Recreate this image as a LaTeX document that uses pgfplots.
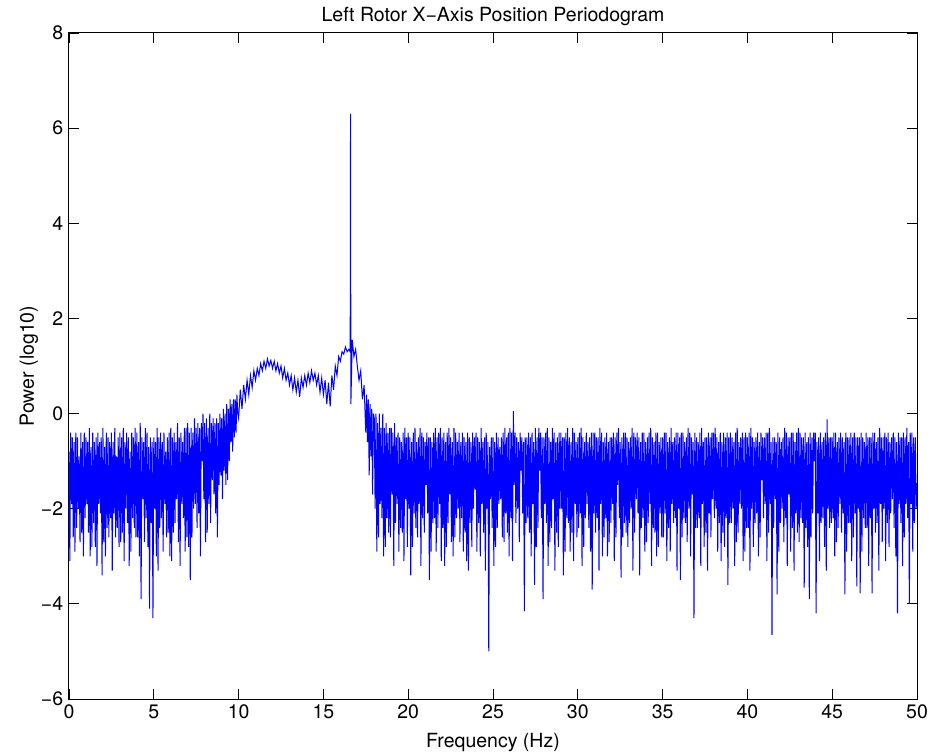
\documentclass[border=0pt]{standalone}
\usepackage{pgfplots}
\pgfplotsset{compat=1.18}
\usepackage{fontspec}
\setmainfont{TeX Gyre Heros}
\begin{document}
\begin{tikzpicture}
\path[use as bounding box] (-41.4pt,-33.6pt) rectangle (517.2pt,419.4pt);
\begin{axis}[
  at={(0,0)}, anchor=south west,
  scale only axis, width=508.8pt, height=399.6pt,
  xmin=0, xmax=50, ymin=-6, ymax=8,
  xtick={0,5,...,50},
  ytick={-6,-4,-2,0,2,4,6,8},
  yticklabels={−6,−4,−2,0,2,4,6,8},
  /pgf/number format/assume math mode=true,
  tick align=inside, major tick length=6pt,
  tick style={black, line width=0.5pt},
  axis line style={black, line width=0.6pt},
  ticklabel style={font=\fontsize{11.7pt}{13pt}\selectfont},
  title={Left Rotor X−Axis Position Periodogram},
  title style={font=\fontsize{11.7pt}{13pt}\selectfont, at={(axis description cs:0.5,1.0015)}, anchor=base},
  xlabel={Frequency (Hz)},
  xlabel style={font=\fontsize{11.7pt}{13pt}\selectfont, at={(axis description cs:0.5,-0.0721)}, anchor=base},
  ylabel={Power (log10)},
  ylabel style={font=\fontsize{11.7pt}{13pt}\selectfont, at={(axis description cs:-0.0472,0.5)}, anchor=center},
]
\addplot[color={rgb,255:red,0;green,0;blue,255}, line width=0.6pt, mark=none] coordinates {
(0.00,-0.8)(0.05,-3.1)(0.10,-0.4)(0.15,-1.9)(0.20,-0.5)(0.25,-2.6)(0.30,-0.6)(0.35,-2.9)(0.40,-0.4)(0.45,-2.4)
(0.50,-0.5)(0.55,-2.0)(0.60,-0.9)(0.65,-2.7)(0.70,-0.4)(0.75,-2.5)(0.80,-0.6)(0.85,-3.0)(0.90,-0.4)(0.95,-2.2)
(1.00,-0.5)(1.05,-1.9)(1.10,-0.6)(1.15,-2.5)(1.20,-0.3)(1.25,-3.0)(1.30,-0.7)(1.35,-2.8)(1.40,-0.4)(1.45,-2.3)
(1.50,-0.6)(1.55,-2.8)(1.60,-0.5)(1.65,-3.2)(1.70,-0.4)(1.75,-1.9)(1.80,-0.6)(1.85,-2.1)(1.90,-0.5)(1.95,-3.4)
(2.00,-0.3)(2.05,-2.7)(2.10,-0.7)(2.15,-3.0)(2.20,-0.4)(2.25,-2.4)(2.30,-0.5)(2.35,-2.6)(2.40,-0.6)(2.45,-2.2)
(2.50,-0.4)(2.55,-3.3)(2.60,-0.6)(2.65,-2.1)(2.70,-0.3)(2.75,-2.6)(2.80,-0.9)(2.85,-2.4)(2.90,-0.5)(2.95,-2.8)
(3.00,-0.4)(3.05,-2.7)(3.10,-0.5)(3.15,-2.5)(3.20,-0.3)(3.25,-3.1)(3.30,-0.6)(3.35,-2.0)(3.40,-0.4)(3.45,-2.3)
(3.50,-0.5)(3.55,-3.2)(3.60,-0.8)(3.65,-2.9)(3.70,-0.4)(3.75,-2.2)(3.80,-0.5)(3.85,-2.4)(3.90,-0.3)(3.95,-2.6)
(4.00,-0.4)(4.05,-2.6)(4.10,-0.6)(4.15,-3.0)(4.20,-0.2)(4.25,-3.9)(4.30,-0.5)(4.35,-1.8)(4.40,-0.6)(4.45,-2.7)
(4.50,-0.3)(4.55,-2.2)(4.60,-0.4)(4.65,-2.8)(4.70,-0.7)(4.75,-4.1)(4.80,-0.5)(4.85,-2.3)(4.90,-0.6)(4.95,-4.3)
(5.00,-0.5)(5.05,-2.0)(5.10,-0.6)(5.15,-3.0)(5.20,-0.3)(5.25,-3.3)(5.30,-0.5)(5.35,-2.4)(5.40,-0.4)(5.45,-2.2)
(5.50,-0.6)(5.55,-2.9)(5.60,-0.4)(5.65,-1.9)(5.70,-0.8)(5.75,-2.6)(5.80,-0.5)(5.85,-2.5)(5.90,-0.4)(5.95,-3.0)
(6.00,-0.3)(6.05,-3.1)(6.10,-0.5)(6.15,-2.5)(6.20,-0.4)(6.25,-2.3)(6.30,-0.6)(6.35,-1.8)(6.40,-0.2)(6.45,-2.7)
(6.50,-0.5)(6.55,-3.2)(6.60,-0.4)(6.65,-1.9)(6.70,-0.6)(6.75,-2.2)(6.80,-0.3)(6.85,-2.9)(6.90,-0.3)(6.95,-2.6)
(7.00,-0.2)(7.05,-2.8)(7.10,-0.4)(7.15,-3.5)(7.20,-0.3)(7.25,-2.6)(7.30,-0.4)(7.35,-2.0)(7.40,-0.1)(7.45,-1.9)
(7.50,-0.3)(7.55,-2.4)(7.60,-0.2)(7.65,-2.1)(7.70,-0.3)(7.75,-3.0)(7.80,-0.2)(7.85,-1.0)(7.90,0.0)(7.95,-1.8)
(8.00,-0.2)(8.05,-2.7)(8.10,-0.1)(8.15,-2.5)(8.20,-0.3)(8.25,-1.9)(8.30,0.0)(8.35,-2.3)(8.40,-0.2)(8.45,-1.4)
(8.50,-0.1)(8.55,-1.7)(8.60,-0.2)(8.65,-2.1)(8.70,-0.1)(8.75,-2.6)(8.80,-0.2)(8.85,-1.5)(8.90,0.0)(8.95,-1.3)
(9.00,-0.1)(9.05,-1.8)(9.10,0.1)(9.15,-1.2)(9.20,0.0)(9.25,-1.5)(9.30,0.2)(9.35,-1.4)(9.40,0.1)(9.45,-1.0)
(9.50,0.3)(9.55,-0.6)(9.60,0.2)(9.65,-0.8)(9.70,0.3)(9.75,-0.5)(9.80,0.3)(9.85,-0.4)(9.90,0.4)(9.95,0.0)
(10.0,-0.1)(10.1,0.5)(10.2,0.1)(10.3,0.6)(10.4,0.3)(10.5,0.7)(10.6,0.4)(10.7,0.8)(10.8,0.55)(10.9,0.9)
(11.0,0.7)(11.1,0.95)(11.2,0.8)(11.3,1.05)(11.4,0.9)(11.5,1.1)(11.6,0.95)(11.7,1.15)(11.8,1.0)(11.9,1.12)
(12.0,0.95)(12.1,1.1)(12.2,0.9)(12.3,1.05)(12.4,0.85)(12.5,1.0)(12.6,0.75)(12.7,0.95)(12.8,0.7)(12.9,0.85)
(13.0,0.6)(13.1,0.8)(13.2,0.5)(13.3,0.75)(13.4,0.45)(13.5,0.7)(13.6,0.35)(13.7,0.75)(13.8,0.55)(13.9,0.8)
(14.0,0.6)(14.1,0.85)(14.2,0.65)(14.3,0.9)(14.4,0.7)(14.5,0.85)(14.6,0.6)(14.7,0.8)(14.8,0.45)(14.9,0.75)
(15.0,0.4)(15.1,0.7)(15.2,0.2)(15.3,0.65)(15.4,0.15)(15.5,0.8)(15.6,0.5)(15.7,1.0)(15.8,0.8)(15.9,1.2)
(16.0,1.1)(16.1,1.3)(16.2,1.25)(16.3,1.4)(16.4,1.3)(16.5,1.35)(16.58,1.3)(16.6,6.3)(16.62,0.2)(16.7,1.55)(16.8,1.2)(16.9,1.35)
(17.0,1.0)(17.1,0.7)(17.2,0.9)(17.3,0.3)(17.4,0.6)
(17.50,-0.4)(17.55,0.4)(17.60,-0.6)(17.65,0.3)(17.70,-1.3)(17.75,0.2)(17.80,-0.9)(17.85,0.1)(17.90,-1.7)(17.95,0.0)
(18.00,-0.1)(18.05,-2.0)(18.10,0.0)(18.15,-2.9)(18.20,-0.2)(18.25,-2.6)(18.30,0.0)(18.35,-1.9)(18.40,-0.3)(18.45,-2.2)
(18.50,0.0)(18.55,-3.0)(18.60,-0.3)(18.65,-2.8)(18.70,-0.2)(18.75,-2.2)(18.80,-0.4)(18.85,-2.5)(18.90,-0.3)(18.95,-2.6)
(19.00,-0.3)(19.05,-1.7)(19.10,-0.4)(19.15,-3.2)(19.20,-0.2)(19.25,-2.3)(19.30,-0.5)(19.35,-1.9)(19.40,-0.4)(19.45,-2.9)
(19.50,-0.5)(19.55,-2.4)(19.60,-0.6)(19.65,-2.5)(19.70,-0.4)(19.75,-3.1)(19.80,-0.3)(19.85,-1.8)(19.90,-0.5)(19.95,-2.8)
(20.00,-0.4)(20.05,-2.0)(20.10,-0.5)(20.15,-3.4)(20.20,-0.6)(20.25,-2.8)(20.30,-0.4)(20.35,-2.1)(20.40,-0.3)(20.45,-2.4)
(20.50,-0.6)(20.55,-2.6)(20.60,-0.5)(20.65,-1.9)(20.70,-0.3)(20.75,-3.2)(20.80,-0.4)(20.85,-2.2)(20.90,-0.5)(20.95,-2.5)
(21.00,-0.6)(21.05,-1.5)(21.10,-0.4)(21.15,-2.1)(21.20,-0.5)(21.25,-3.5)(21.30,-0.5)(21.35,-2.9)(21.40,-0.6)(21.45,-2.3)
(21.50,-0.4)(21.55,-2.2)(21.60,-0.3)(21.65,-2.9)(21.70,-0.5)(21.75,-2.4)(21.80,-0.4)(21.85,-1.9)(21.90,-0.3)(21.95,-3.1)
(22.00,-0.5)(22.05,-2.4)(22.10,-0.4)(22.15,-3.2)(22.20,-0.6)(22.25,-2.8)(22.30,-0.4)(22.35,-2.3)(22.40,-0.3)(22.45,-1.7)
(22.50,-0.5)(22.55,-2.7)(22.60,-0.6)(22.65,-3.0)(22.70,-0.3)(22.75,-2.6)(22.80,-0.4)(22.85,-2.2)(22.90,-0.6)(22.95,-2.0)
(23.00,-0.4)(23.05,-2.7)(23.10,-0.6)(23.15,-2.2)(23.20,-0.4)(23.25,-2.9)(23.30,-0.5)(23.35,-2.5)(23.40,-0.6)(23.45,-3.1)
(23.50,-0.4)(23.55,-3.3)(23.60,-0.5)(23.65,-2.3)(23.70,-0.6)(23.75,-2.8)(23.80,-0.4)(23.85,-2.0)(23.90,-0.5)(23.95,-1.6)
(24.00,-0.4)(24.05,-2.9)(24.10,-0.5)(24.15,-2.3)(24.20,-0.6)(24.25,-3.0)(24.30,-0.3)(24.35,-1.9)(24.40,-0.6)(24.45,-2.5)
(24.50,-0.5)(24.55,-3.3)(24.60,-0.4)(24.65,-2.0)(24.70,-0.6)(24.75,-5.0)(24.80,-0.7)(24.85,-1.8)(24.90,-0.5)(24.95,-2.4)
(25.00,-0.5)(25.05,-3.2)(25.10,-0.6)(25.15,-2.8)(25.20,-0.4)(25.25,-2.4)(25.30,-0.5)(25.35,-1.9)(25.40,-0.7)(25.45,-1.8)
(25.50,-0.5)(25.55,-2.6)(25.60,-0.4)(25.65,-2.7)(25.70,-0.3)(25.75,-2.1)(25.80,-0.5)(25.85,-2.5)(25.90,-0.4)(25.95,-3.0)
(26.00,-0.3)(26.05,-2.2)(26.10,-0.4)(26.15,-3.1)(26.20,0.05)(26.25,-1.5)(26.30,-0.4)(26.35,-2.3)(26.40,-0.5)(26.45,-2.0)
(26.50,-0.6)(26.55,-2.7)(26.60,-0.4)(26.65,-1.2)(26.70,-0.5)(26.75,-2.1)(26.80,-0.6)(26.85,-4.15)(26.90,-0.5)(26.95,-2.3)
(27.00,-0.5)(27.05,-2.2)(27.10,-0.4)(27.15,-2.5)(27.20,-0.5)(27.25,-3.0)(27.30,-0.4)(27.35,-1.9)(27.40,-0.6)(27.45,-3.6)
(27.50,-0.3)(27.55,-2.8)(27.60,-0.5)(27.65,-2.4)(27.70,-0.3)(27.75,-1.2)(27.80,-0.4)(27.85,-2.2)(27.90,-0.5)(27.95,-3.9)
(28.00,-0.5)(28.05,-1.9)(28.10,-0.4)(28.15,-2.3)(28.20,-0.3)(28.25,-3.2)(28.30,-0.5)(28.35,-2.7)(28.40,-0.6)(28.45,-2.4)
(28.50,-0.3)(28.55,-1.8)(28.60,-0.4)(28.65,-3.3)(28.70,-0.6)(28.75,-2.5)(28.80,-0.5)(28.85,-2.8)(28.90,-0.4)(28.95,-2.0)
(29.00,-0.4)(29.05,-2.0)(29.10,-0.5)(29.15,-3.4)(29.20,-0.5)(29.25,-2.9)(29.30,-0.4)(29.35,-2.2)(29.40,-0.3)(29.45,-2.3)
(29.50,-0.5)(29.55,-2.9)(29.60,-0.6)(29.65,-2.5)(29.70,-0.3)(29.75,-3.1)(29.80,-0.4)(29.85,-1.9)(29.90,-0.6)(29.95,-2.6)
(30.00,-0.5)(30.05,-2.4)(30.10,-0.4)(30.15,-2.1)(30.20,-0.3)(30.25,-3.2)(30.30,-0.5)(30.35,-2.8)(30.40,-0.6)(30.45,-2.2)
(30.50,-0.4)(30.55,-1.9)(30.60,-0.6)(30.65,-2.4)(30.70,-0.5)(30.75,-2.9)(30.80,-0.4)(30.85,-3.7)(30.90,-0.4)(30.95,-2.1)
(31.00,-0.4)(31.05,-2.5)(31.10,-0.5)(31.15,-2.2)(31.20,-0.5)(31.25,-3.3)(31.30,-0.3)(31.35,-1.9)(31.40,-0.4)(31.45,-3.0)
(31.50,-0.6)(31.55,-2.6)(31.60,-0.5)(31.65,-2.2)(31.70,-0.4)(31.75,-3.0)(31.80,-0.6)(31.85,-2.7)(31.90,-0.5)(31.95,-2.3)
(32.00,-0.5)(32.05,-1.9)(32.10,-0.4)(32.15,-3.1)(32.20,-0.5)(32.25,-2.6)(32.30,-0.4)(32.35,-1.5)(32.40,-0.3)(32.45,-2.2)
(32.50,-0.6)(32.55,-3.45)(32.60,-0.5)(32.65,-2.6)(32.70,-0.4)(32.75,-2.3)(32.80,-0.4)(32.85,-2.5)(32.90,-0.5)(32.95,-2.8)
(33.00,-0.6)(33.05,-2.3)(33.10,-0.5)(33.15,-2.0)(33.20,-0.3)(33.25,-3.3)(33.30,-0.4)(33.35,-2.5)(33.40,-0.5)(33.45,-1.8)
(33.50,-0.4)(33.55,-2.1)(33.60,-0.5)(33.65,-3.4)(33.70,-0.6)(33.75,-2.4)(33.80,-0.4)(33.85,-2.2)(33.90,-0.4)(33.95,-2.9)
(34.00,-0.6)(34.05,-2.7)(34.10,-0.5)(34.15,-2.3)(34.20,-0.4)(34.25,-1.9)(34.30,-0.3)(34.35,-3.2)(34.40,-0.5)(34.45,-2.4)
(34.50,-0.6)(34.55,-2.5)(34.60,-0.4)(34.65,-3.0)(34.70,-0.4)(34.75,-2.8)(34.80,-0.6)(34.85,-2.1)(34.90,-0.5)(34.95,-2.6)
(35.00,-0.5)(35.05,-2.6)(35.10,-0.4)(35.15,-2.1)(35.20,-0.4)(35.25,-3.1)(35.30,-0.6)(35.35,-2.4)(35.40,-0.5)(35.45,-2.9)
(35.50,-0.3)(35.55,-1.9)(35.60,-0.6)(35.65,-2.3)(35.70,-0.5)(35.75,-2.2)(35.80,-0.4)(35.85,-3.3)(35.90,-0.4)(35.95,-2.0)
(36.00,-0.5)(36.05,-3.5)(36.10,-0.4)(36.15,-2.6)(36.20,-0.4)(36.25,-2.2)(36.30,-0.6)(36.35,-2.3)(36.40,-0.5)(36.45,-2.7)
(36.50,-0.3)(36.55,-2.0)(36.60,-0.4)(36.65,-3.0)(36.70,-0.5)(36.75,-1.7)(36.80,-0.6)(36.85,-4.3)(36.90,-0.4)(36.95,-2.4)
(37.00,-0.5)(37.05,-2.4)(37.10,-0.6)(37.15,-2.2)(37.20,-0.4)(37.25,-3.2)(37.30,-0.3)(37.35,-1.9)(37.40,-0.6)(37.45,-2.8)
(37.50,-0.5)(37.55,-2.5)(37.60,-0.5)(37.65,-3.3)(37.70,-0.4)(37.75,-2.1)(37.80,-0.5)(37.85,-2.6)(37.90,-0.4)(37.95,-1.8)
(38.00,-0.4)(38.05,-2.2)(38.10,-0.3)(38.15,-2.0)(38.20,-0.5)(38.25,-2.9)(38.30,-0.6)(38.35,-2.3)(38.40,-0.4)(38.45,-3.1)
(38.50,-0.6)(38.55,-2.5)(38.60,-0.4)(38.65,-2.8)(38.70,-0.5)(38.75,-2.2)(38.80,-0.4)(38.85,-3.6)(38.90,-0.5)(38.95,-2.3)
(39.00,-0.4)(39.05,-2.3)(39.10,-0.5)(39.15,-2.0)(39.20,-0.6)(39.25,-3.2)(39.30,-0.4)(39.35,-2.7)(39.40,-0.3)(39.45,-2.5)
(39.50,-0.6)(39.55,-1.9)(39.60,-0.5)(39.65,-2.0)(39.70,-0.4)(39.75,-3.1)(39.80,-0.5)(39.85,-2.9)(39.90,-0.4)(39.95,-2.4)
(40.00,-0.5)(40.05,-2.4)(40.10,-0.4)(40.15,-3.3)(40.20,-0.3)(40.25,-2.0)(40.30,-0.5)(40.35,-2.8)(40.40,-0.6)(40.45,-2.3)
(40.50,-0.5)(40.55,-2.1)(40.60,-0.4)(40.65,-3.0)(40.70,-0.6)(40.75,-2.6)(40.80,-0.4)(40.85,-1.4)(40.90,-0.5)(40.95,-2.2)
(41.00,-0.5)(41.05,-1.9)(41.10,-0.4)(41.15,-3.1)(41.20,-0.4)(41.25,-2.5)(41.30,-0.3)(41.35,-1.9)(41.40,-0.6)(41.45,-4.65)
(41.50,-0.5)(41.55,-2.4)(41.60,-0.5)(41.65,-1.8)(41.70,-0.6)(41.75,-3.8)(41.80,-0.4)(41.85,-2.9)(41.90,-0.5)(41.95,-2.3)
(42.00,-0.6)(42.05,-2.0)(42.10,-0.5)(42.15,-2.7)(42.20,-0.3)(42.25,-2.2)(42.30,-0.4)(42.35,-3.2)(42.40,-0.5)(42.45,-1.7)
(42.50,-0.5)(42.55,-2.9)(42.60,-0.4)(42.65,-2.4)(42.70,-0.4)(42.75,-3.3)(42.80,-0.6)(42.85,-2.1)(42.90,-0.4)(42.95,-2.5)
(43.00,-0.3)(43.05,-2.7)(43.10,-0.4)(43.15,-2.2)(43.20,-0.5)(43.25,-2.3)(43.30,-0.5)(43.35,-3.66)(43.40,-0.4)(43.45,-2.4)
(43.50,-0.6)(43.55,-2.8)(43.60,-0.5)(43.65,-3.9)(43.70,-0.4)(43.75,-2.6)(43.80,-0.5)(43.85,-2.1)(43.90,-0.4)(43.95,-1.0)
(44.00,-0.4)(44.05,-4.2)(44.10,-0.6)(44.15,-2.1)(44.20,-0.5)(44.25,-3.1)(44.30,-0.4)(44.35,-2.3)(44.40,-0.6)(44.45,-2.2)
(44.50,-0.5)(44.55,-2.8)(44.60,-0.4)(44.65,-3.3)(44.70,-0.12)(44.75,-2.0)(44.80,-0.5)(44.85,-2.4)(44.90,-0.5)(44.95,-2.3)
(45.00,-0.5)(45.05,-2.2)(45.10,-0.4)(45.15,-3.0)(45.20,-0.4)(45.25,-2.7)(45.30,-0.6)(45.35,-2.4)(45.40,-0.5)(45.45,-1.9)
(45.50,-0.4)(45.55,-2.5)(45.60,-0.5)(45.65,-2.1)(45.70,-0.6)(45.75,-3.8)(45.80,-0.4)(45.85,-2.9)(45.90,-0.5)(45.95,-2.3)
(46.00,-0.5)(46.05,-2.3)(46.10,-0.4)(46.15,-3.1)(46.20,-0.5)(46.25,-2.6)(46.30,-0.4)(46.35,-2.1)(46.40,-0.5)(46.45,-3.63)
(46.50,-0.5)(46.55,-2.0)(46.60,-0.5)(46.65,-3.78)(46.70,-0.4)(46.75,-2.9)(46.80,-0.5)(46.85,-2.2)(46.90,-0.6)(46.95,-2.4)
(47.00,-0.4)(47.05,-2.4)(47.10,-0.5)(47.15,-3.2)(47.20,-0.5)(47.25,-2.2)(47.30,-0.5)(47.35,-3.78)(47.40,-0.4)(47.45,-2.0)
(47.50,-0.4)(47.55,-2.5)(47.60,-0.6)(47.65,-2.3)(47.70,-0.5)(47.75,-3.3)(47.80,-0.3)(47.85,-1.9)(47.90,-0.5)(47.95,-2.7)
(48.00,-0.5)(48.05,-2.0)(48.10,-0.4)(48.15,-3.1)(48.20,-0.5)(48.25,-2.3)(48.30,-0.4)(48.35,-2.8)(48.40,-0.6)(48.45,-2.1)
(48.50,-0.5)(48.55,-1.8)(48.60,-0.4)(48.65,-2.4)(48.70,-0.5)(48.75,-3.0)(48.80,-0.6)(48.85,-4.2)(48.90,-0.4)(48.95,-1.9)
(49.00,-0.5)(49.05,-2.3)(49.10,-0.5)(49.15,-3.2)(49.20,-0.4)(49.25,-2.6)(49.30,-0.5)(49.35,-1.9)(49.40,-0.3)(49.45,-2.2)
(49.50,-0.6)(49.55,-4.0)(49.60,-0.4)(49.65,-1.9)(49.70,-0.4)(49.75,-2.9)(49.80,-0.5)(49.85,-2.3)(49.90,-0.5)(49.95,-2.0)
(50.00,-1.46)
};
\end{axis}
\end{tikzpicture}
\end{document}
